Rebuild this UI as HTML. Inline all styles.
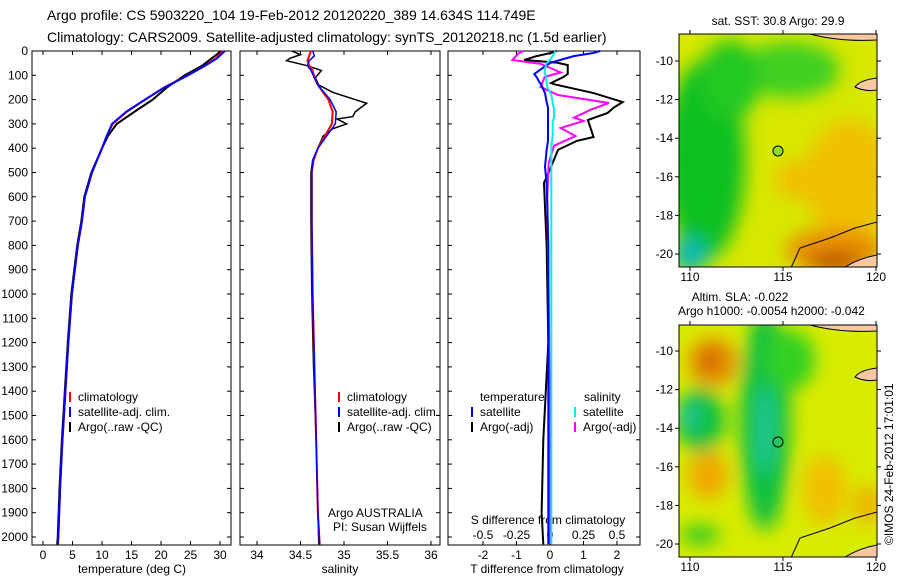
<!DOCTYPE html>
<html><head><meta charset="utf-8"><style>
body{margin:0;background:#fff}
svg{display:block;font-family:"Liberation Sans",sans-serif}
</style></head><body>
<svg id="c" width="900" height="580" viewBox="0 0 900 580" xmlns="http://www.w3.org/2000/svg">
<defs>
<filter id="bl" x="-50%" y="-50%" width="200%" height="200%"><feGaussianBlur stdDeviation="9"/></filter>
<clipPath id="m1"><rect x="679" y="34" width="198" height="233"/></clipPath>
<clipPath id="m2"><rect x="679" y="325" width="198" height="232"/></clipPath>
</defs>
<text x="47" y="20" font-size="14">Argo profile: CS 5903220_104 19-Feb-2012 20120220_389 14.634S 114.749E</text>
<text x="47" y="42" font-size="14">Climatology: CARS2009. Satellite-adjusted climatology: synTS_20120218.nc (1.5d earlier)</text>
<g id="panels"></g>

<!-- Map 1 SST -->
<g clip-path="url(#m1)">
<rect x="679" y="34" width="198" height="233" fill="#d8e800"/>
<g filter="url(#bl)">
<ellipse cx="705" cy="160" rx="40" ry="100" fill="#10c020"/>
<ellipse cx="790" cy="70" rx="50" ry="28" fill="#40d020"/>
<ellipse cx="730" cy="80" rx="30" ry="40" fill="#20c820"/>
<ellipse cx="690" cy="255" rx="18" ry="18" fill="#10b8b0"/>
<ellipse cx="850" cy="180" rx="45" ry="60" fill="#f0c000"/>
<ellipse cx="800" cy="180" rx="25" ry="20" fill="#f0c000"/>
<ellipse cx="835" cy="250" rx="50" ry="22" fill="#e89000"/>
<ellipse cx="835" cy="262" rx="28" ry="9" fill="#b84000"/>
</g>
<path d="M790 270 L800 248 L830 238 L855 228 L877 222 L877 270Z" fill="none" stroke="#000" stroke-width="1"/>
<path d="M855 87 Q860 80 877 78 L877 90 Q865 92 855 87Z" fill="#f8c8a0" stroke="#000"/>
<path d="M810 34 L877 34 L877 40 Q840 42 810 34Z" fill="#f8c8a0" stroke="#000"/>
<path d="M845 267 Q860 258 877 255 L877 267Z" fill="#f8c8a0" stroke="#000"/>
</g>
<rect x="679" y="34" width="198" height="233" fill="none" stroke="#000"/>
<circle cx="778" cy="151" r="5" fill="#90e020" stroke="#000"/>
<text x="778" y="25" font-size="12" text-anchor="middle">sat. SST: 30.8 Argo: 29.9</text>

<!-- Map 2 SLA -->
<g clip-path="url(#m2)">
<rect x="679" y="325" width="198" height="232" fill="#d8ec00"/>
<g filter="url(#bl)">
<ellipse cx="700" cy="420" rx="25" ry="32" fill="#10c040"/>
<ellipse cx="765" cy="420" rx="25" ry="110" fill="#10c040"/>
<ellipse cx="790" cy="360" rx="25" ry="30" fill="#30d020"/>
<ellipse cx="765" cy="430" rx="8" ry="45" fill="#20c8a0"/>
<ellipse cx="690" cy="416" rx="9" ry="13" fill="#20c8a0"/>
<ellipse cx="713" cy="362" rx="25" ry="25" fill="#e89000"/>
<ellipse cx="710" cy="360" rx="10" ry="10" fill="#c85000"/>
<ellipse cx="708" cy="475" rx="20" ry="25" fill="#f0a800"/>
<ellipse cx="825" cy="490" rx="22" ry="35" fill="#f0c000"/>
<ellipse cx="868" cy="505" rx="14" ry="20" fill="#f0b000"/>
<ellipse cx="700" cy="535" rx="20" ry="10" fill="#30c820"/>
</g>
<path d="M790 560 L800 538 L830 528 L855 518 L877 512 L877 560Z" fill="none" stroke="#000"/>
<path d="M855 377 Q860 370 877 368 L877 380 Q865 382 855 377Z" fill="#f8c8a0" stroke="#000"/>
<path d="M810 325 L877 325 L877 331 Q840 333 810 325Z" fill="#f8c8a0" stroke="#000"/>
<path d="M845 557 Q860 548 877 545 L877 557Z" fill="#f8c8a0" stroke="#000"/>
</g>
<rect x="679" y="325" width="198" height="232" fill="none" stroke="#000"/>
<circle cx="778" cy="442" r="5" fill="none" stroke="#000"/>
<text x="740" y="301" font-size="12" text-anchor="middle">Altim. SLA: -0.022</text>
<text x="678" y="315" font-size="12">Argo h1000: -0.0054 h2000: -0.042</text>
<text transform="translate(893,545) rotate(-90)" font-size="12">©IMOS 24-Feb-2012 17:01:01</text>
<g id="maps"></g>
</svg>
<script>
// ---- data ----
const depthTicks=[0,100,200,300,400,500,600,700,800,900,1000,1100,1200,1300,1400,1500,1600,1700,1800,1900,2000];
const tempTicks=[0,5,10,15,20,25,30];
const salTicks=[34,34.5,35,35.5,36];
const tdTicks=[-2,-1,0,1,2];
const sdTicks=[-0.5,-0.25,0,0.25,0.5];
const sdTickLabels=["-0.5","-0.25","0","0.25","0.5"];
const latTicks=[-10,-12,-14,-16,-18,-20];
const lonTicks=[110,115,120];

const tDepth=[0,30,60,100,150,200,250,300,350,400,500,600,700,800,900,1000,1200,1400,1600,1800,2000,2030];
const tempClim=[30.5,29.3,27.5,24.5,20.5,17.3,14.2,11.8,10.8,10,8.3,7.1,6.6,5.9,5.4,4.9,4.3,3.8,3.3,2.9,2.6,2.5];
const tempSat=[30.8,29.5,27.5,24.6,20.6,17.3,14.1,11.7,10.8,10,8.3,7.1,6.6,5.9,5.4,4.9,4.3,3.8,3.3,2.9,2.6,2.5];
const tempArgo=[30.2,28.6,27,24,21,18.6,15.5,12.5,11,10,8.2,7,6.5,5.8,5.3,4.8,4.2,3.7,3.2,2.8,2.5,2.4];

const sDepth=[0,20,40,60,80,110,140,170,200,250,300,350,400,450,500,700,1000,1300,1600,1900,2030];
const salClim=[34.62,34.6,34.58,34.6,34.64,34.66,34.7,34.76,34.82,34.87,34.86,34.78,34.7,34.65,34.63,34.63,34.64,34.66,34.68,34.7,34.72];
const salSat=[34.64,34.66,34.6,34.58,34.62,34.66,34.7,34.77,34.84,34.91,34.9,34.8,34.7,34.64,34.63,34.63,34.64,34.66,34.68,34.7,34.72];
const aDepth=[0,15,30,40,60,80,110,140,170,215,250,270,280,300,320,350,400,450,500,700,1000,1300,1600,1900,2030];
const salArgo=[34.4,34.5,34.38,34.34,34.57,34.74,34.67,34.71,34.87,35.26,35.13,35.1,34.92,35.03,34.87,34.76,34.7,34.64,34.62,34.62,34.63,34.65,34.68,34.7,34.71];

const dDepth=[0,8,21,37,48,58,95,107,132,136,173,210,233,255,284,354,370,407,477,543,800,1200,1600,1900,2030];
const tDiffSat=[1.5,1.3,0.71,0.3,0.03,-0.1,-0.47,-0.4,-0.3,-0.27,-0.15,-0.1,-0.06,-0.06,-0.06,-0.06,-0.06,-0.1,-0.15,-0.1,-0.05,-0.05,-0.05,-0.05,-0.05];
const tDiffArgo=[0.2,0.03,-0.4,-0.77,0.2,0.53,0.53,0.4,0.03,0.1,1.3,2.17,1.9,1.72,1.13,1.3,0.8,0.24,0.03,-0.18,-0.1,-0.05,-0.2,-0.25,-0.2];
const mDepth=[0,12,37,53,88,107,148,181,214,240,274,288,317,350,390,463,600,1000,1500,2030];
const sDiffArgo=[-0.2,-0.24,-0.28,-0.07,0.08,-0.04,-0.07,0.06,0.44,0.31,0.18,0.25,0.08,0.19,0.03,-0.01,-0.02,-0.01,0,0];
const sDiffSat=[0.04,0.03,0,-0.03,-0.04,-0.03,-0.02,0.01,0.02,0.03,0.03,0.02,0.02,0.02,0.01,0.01,0.01,0.01,0.01,0.01];

// ---- helpers ----
const NS="http://www.w3.org/2000/svg";
const root=document.getElementById('panels');
function mk(tag,attrs,parent){const e=document.createElementNS(NS,tag);for(const k in attrs)e.setAttribute(k,attrs[k]);(parent||root).appendChild(e);return e;}
const Y0=51,YB=545;
const yD=d=>Y0+d*(537-51)/2000;
function lin(d0,d1,p0,p1){return v=>p0+(v-d0)*(p1-p0)/(d1-d0);}
function txt(x,y,s,name,anchor,size){const t=mk('text',{x:x,y:y,'font-size':size||12,'text-anchor':anchor||'start'});t.textContent=s;


return t;}
function line(xs,ds,sx,color,w,name){const p=mk('polyline',{points:xs.map((v,i)=>sx(v)+','+yD(ds[i])).join(' '),fill:'none',stroke:color,'stroke-width':w});

}
function frame(x0,x1,name){const r=mk('rect',{x:x0,y:Y0,width:x1-x0,height:YB-Y0,fill:'none',stroke:'#000'});

}
function yAxis(x0,x1,labels){depthTicks.forEach(d=>{const y=yD(d);mk('line',{x1:x0,x2:x0+4,y1:y,y2:y,stroke:'#000'});mk('line',{x1:x1,x2:x1-4,y1:y,y2:y,stroke:'#000'});
if(labels)txt(x0-4,y+4,String(d),'depth-tick-label','end');});}
function xAxis(ticks,labs,sx,name){ticks.forEach((t,i)=>{const x=sx(t);mk('line',{x1:x,x2:x,y1:YB,y2:YB-4,stroke:'#000'});mk('line',{x1:x,x2:x,y1:Y0,y2:Y0+4,stroke:'#000'});
txt(x,YB+14,labs[i],name,'middle');});}
function legend(x,y,color,label,name){const l=mk('line',{x1:x,x2:x,y1:y-9,y2:y+1,stroke:color,'stroke-width':2});


txt(x+8,y,label,name);}

// Panel 1 temperature
const sxT=lin(0,30,43,220);
frame(32,231,'temperature-panel');yAxis(32,231,true);
xAxis(tempTicks,tempTicks.map(String),sxT,'temperature-tick-label');
txt(132,573,'temperature (deg C)','temperature-axis-title','middle');
line(tempArgo,tDepth,sxT,'#000',2,'temperature-argo-line');
line(tempClim,tDepth,sxT,'#f00',2,'temperature-climatology-line');
line(tempSat,tDepth,sxT,'#00f',2,'temperature-satellite-line');
legend(70,401,'#f00','climatology','legend-climatology');
legend(70,416,'#00f','satellite-adj. clim.','legend-satellite');
legend(70,431,'#000','Argo(..raw -QC)','legend-argo');

// Panel 2 salinity
const sxS=lin(34,36,257,431);
frame(240,440,'salinity-panel');yAxis(240,440,false);
xAxis(salTicks,salTicks.map(String),sxS,'salinity-tick-label');
txt(340,573,'salinity','salinity-axis-title','middle');
line(salArgo,aDepth,sxS,'#000',1.5,'salinity-argo-line');
line(salClim,sDepth,sxS,'#f00',2,'salinity-climatology-line');
line(salSat,sDepth,sxS,'#00f',1.5,'salinity-satellite-line');
legend(339,401,'#f00','climatology','legend-climatology-sal');
legend(339,416,'#00f','satellite-adj. clim.','legend-satellite-sal');
legend(339,431,'#000','Argo(..raw -QC)','legend-argo-sal');
txt(328,517,'Argo AUSTRALIA','float-source-label');
txt(333,531,'PI: Susan Wijffels','pi-label');

// Panel 3 differences
const sxTd=lin(-2,2,483,617);
const sxSd=lin(-0.5,0.5,483,617);
frame(448,640,'difference-panel');yAxis(448,640,false);
xAxis(tdTicks,tdTicks.map(String),sxTd,'t-diff-tick-label');
sdTicks.forEach((t,i)=>txt(sxSd(t),YB-6,sdTickLabels[i],'s-diff-tick-label','middle'));
txt(548,524,'S difference from climatology','s-diff-axis-title','middle');
txt(547,573,'T difference from climatology','t-diff-axis-title','middle');
line(tDiffArgo,dDepth,sxTd,'#000',2,'t-diff-argo-line');
line(sDiffArgo,mDepth,sxSd,'#f0f',2,'s-diff-argo-line');
line(tDiffSat,dDepth,sxTd,'#00f',2,'t-diff-satellite-line');
line(sDiffSat,mDepth,sxSd,'#0ee',2,'s-diff-satellite-line');
txt(480,401,'temperature','legend-temperature-header');
txt(584,401,'salinity','legend-salinity-header');
legend(472,416,'#00f','satellite','legend-t-satellite');
legend(472,431,'#000','Argo(-adj)','legend-t-argo');
legend(575,416,'#0ee','satellite','legend-s-satellite');
legend(575,431,'#f0f','Argo(-adj)','legend-s-argo');

// Map axes
const mroot=document.getElementById('maps');
const sxLon=lin(110,120,690,876);
function mapAxes(top,bot,lat10,lat20,name){const sy=lin(-10,-20,lat10,lat20);
latTicks.forEach(l=>{const y=sy(l);mk('line',{x1:679,x2:675,y1:y,y2:y,stroke:'#000'},mroot);mk('line',{x1:877,x2:881,y1:y,y2:y,stroke:'#000'},mroot);
const t=mk('text',{x:673,y:y+4,'font-size':12,'text-anchor':'end'},mroot);t.textContent=String(l);

});
lonTicks.forEach(l=>{const x=sxLon(l);mk('line',{x1:x,x2:x,y1:bot,y2:bot+4,stroke:'#000'},mroot);mk('line',{x1:x,x2:x,y1:top,y2:top-4,stroke:'#000'},mroot);
const t=mk('text',{x:x,y:bot+14,'font-size':12,'text-anchor':'middle'},mroot);t.textContent=String(l);

});}
mapAxes(34,267,61,254,'sst-map');
mapAxes(325,557,351,544,'sla-map');
</script>
</body></html>
